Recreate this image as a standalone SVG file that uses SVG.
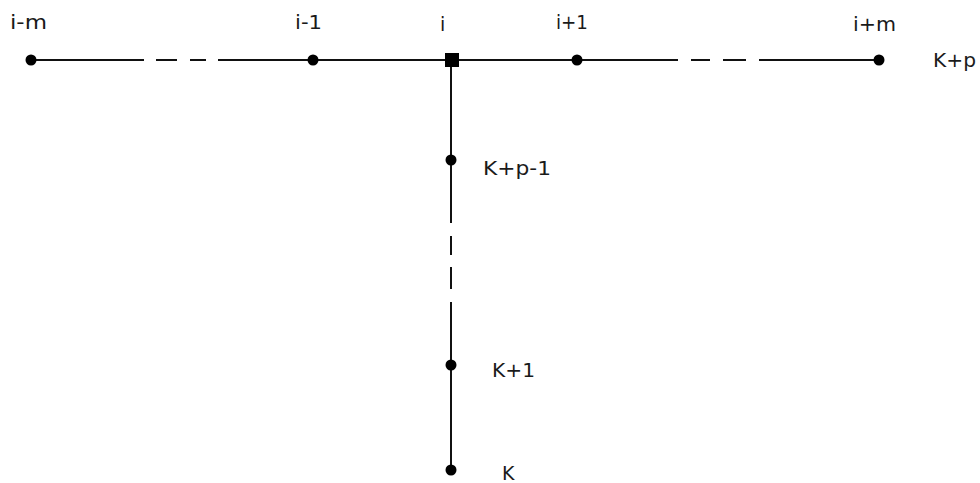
<svg xmlns="http://www.w3.org/2000/svg" width="980" height="483" viewBox="0 0 980 483">
<style>
.ln{stroke:#111;stroke-width:2;fill:none}
.dot{fill:#000}
.lb{font-family:"DejaVu Sans",Verdana,sans-serif;font-size:19px;fill:#1a1a1a}
</style>
<rect width="980" height="483" fill="#fff"/>
<g id="connectors">
<path class="ln" d="M31 60H144M156 60H177M190 60H206M218 60H678M691 60H710M723 60H746M759 60H879"/>
<path class="ln" d="M451 60V223M451 236V255M451 267V289M451 302V470"/>
</g>
<g id="n-im"><circle class="dot" cx="31" cy="60" r="5.5"/><text class="lb" x="10" y="29" textLength="37" lengthAdjust="spacingAndGlyphs">i-m</text></g>
<g id="n-i1m"><circle class="dot" cx="313" cy="60" r="5.5"/><text class="lb" x="295" y="29" textLength="27" lengthAdjust="spacingAndGlyphs">i-1</text></g>
<g id="n-i"><rect class="dot" x="445" y="53" width="14" height="14"/><text class="lb" x="440" y="31">i</text></g>
<g id="n-i1p"><circle class="dot" cx="577" cy="60" r="5.5"/><text class="lb" x="556" y="29" textLength="32" lengthAdjust="spacingAndGlyphs">i+1</text></g>
<g id="n-ip"><circle class="dot" cx="879" cy="60" r="5.5"/><text class="lb" x="853" y="31" textLength="43" lengthAdjust="spacingAndGlyphs">i+m</text></g>
<g id="n-kp"><text class="lb" x="933" y="67" textLength="43" lengthAdjust="spacingAndGlyphs">K+p</text></g>
<g id="n-kp1"><circle class="dot" cx="451" cy="160" r="5.5"/><text class="lb" x="483" y="175" textLength="68" lengthAdjust="spacingAndGlyphs">K+p-1</text></g>
<g id="n-k1"><circle class="dot" cx="451" cy="365" r="5.5"/><text class="lb" x="492" y="377" textLength="43" lengthAdjust="spacingAndGlyphs">K+1</text></g>
<g id="n-k"><circle class="dot" cx="451" cy="470" r="5.5"/><text class="lb" x="502" y="480">K</text></g>
</svg>
